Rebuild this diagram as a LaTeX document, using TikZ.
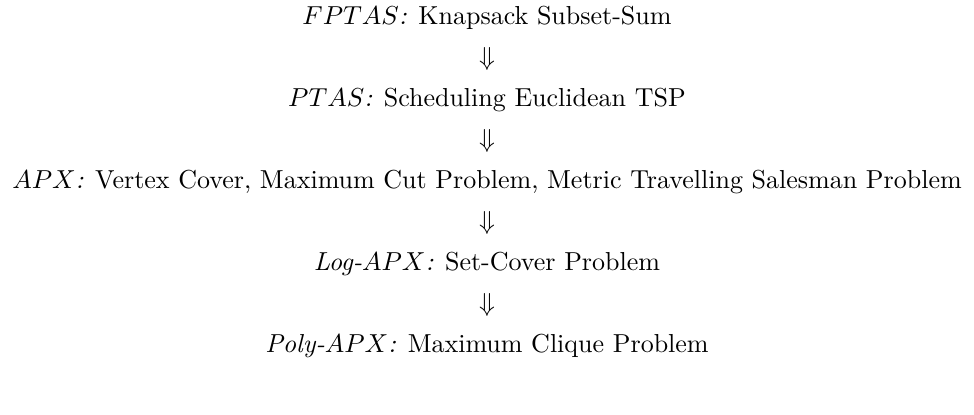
\documentclass[tikz,border=0pt]{standalone}
\begin{document}
\begin{tikzpicture}[x=0.3846pt,y=-0.3846pt,
  cls/.style={inner sep=0pt,anchor=center},
  arr/.style={inner sep=0pt,anchor=center}]
\useasboundingbox (0,0) rectangle (974,414);
\node[cls] (fptas) at (487,18) {$FPTAS$\textit{:} Knapsack Subset-Sum};
\node[arr] (a1) at (487,59) {$\Downarrow$};
\node[cls] (ptas) at (487,100) {$PTAS$\textit{:} Scheduling Euclidean TSP};
\node[arr] (a2) at (487,141) {$\Downarrow$};
\node[cls] (apx) at (487,182) {$APX$\textit{:} Vertex Cover, Maximum Cut Problem, Metric Travelling Salesman Problem};
\node[arr] (a3) at (487,223) {$\Downarrow$};
\node[cls] (logapx) at (487,264) {\textit{Log-}$APX$\textit{:} Set-Cover Problem};
\node[arr] (a4) at (487,305) {$\Downarrow$};
\node[cls] (polyapx) at (487,346) {\textit{Poly-}$APX$\textit{:} Maximum Clique Problem};
\end{tikzpicture}
\end{document}
